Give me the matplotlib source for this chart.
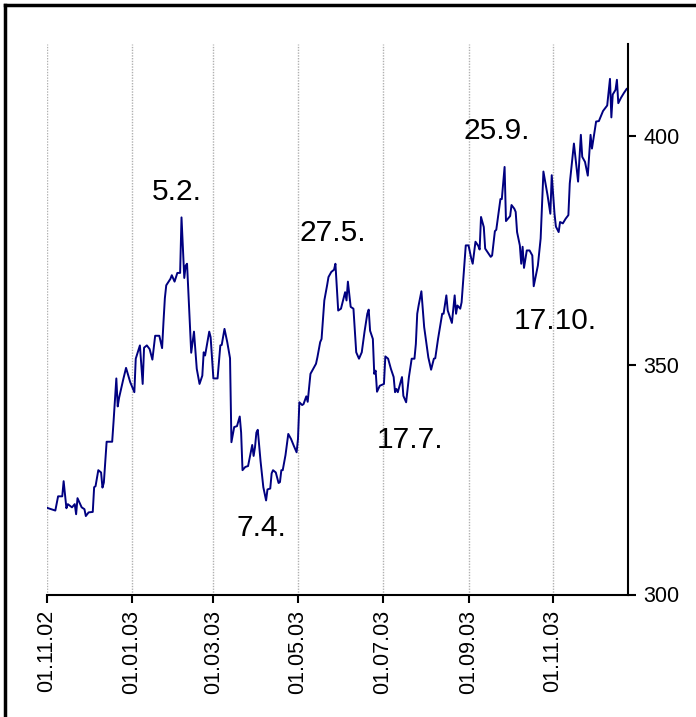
import pandas as pd
import matplotlib
matplotlib.use("Agg")
from matplotlib import pyplot as plt
import matplotlib.dates as mdates
from matplotlib.lines import Line2D

# Days counted from 01.11.2002
start = pd.Timestamp("2002-11-01")
day = [0, 6, 8, 11, 12, 14, 15, 18, 20, 21, 22, 25, 27, 28, 30, 33, 34, 35, 37, 39,
       40, 41, 43, 47, 48, 50, 51, 52, 55, 57, 60, 63, 64, 67, 69, 70, 72, 74, 76, 78,
       81, 83, 84, 85, 86, 89, 90, 92, 94, 96, 97, 99, 100, 101, 104, 106, 108, 110, 112, 113,
       114, 117, 118, 120, 123, 125, 126, 128, 130, 132, 133, 135, 137, 139, 140, 141, 143, 145, 148, 149,
       150, 151, 152, 154, 155, 156, 158, 159, 161, 162, 163, 165, 167, 168, 169, 170, 172, 174, 176, 178,
       180, 181, 182, 184, 185, 187, 188, 190, 192, 194, 195, 197, 198, 200, 202, 203, 205, 207, 208, 210,
       212, 215, 216, 217, 219, 221, 223, 225, 227, 229, 231, 232, 233, 235, 236, 237, 238, 240, 243, 244,
       246, 248, 250, 251, 252, 253, 256, 257, 259, 261, 263, 265, 266, 267, 268, 270, 272, 275, 277, 279,
       280, 282, 285, 286, 288, 289, 292, 294, 295, 296, 298, 299, 301, 302, 304, 306, 307, 309, 311, 312,
       313, 315, 316, 318, 320, 321, 323, 324, 327, 328, 330, 331, 334, 335, 337, 338, 339, 341, 342, 343,
       344, 346, 348, 350, 351, 354, 356, 358, 361, 363, 364, 366, 367, 369, 370, 372, 374, 376, 377, 380,
       383, 385, 386, 388, 390, 392, 393, 396, 398, 401, 402, 404, 406, 407, 408, 410, 411, 412, 414, 416,
       418]
price = [318.9, 318.3, 321.4, 321.4, 324.7, 318.8, 319.7, 319.0, 319.7, 317.5, 321.0, 319.0, 318.6, 317.1, 317.9, 318.0, 323.4, 323.6, 327.1, 326.6,
         323.3, 324.4, 333.3, 333.3, 337.7, 347.1, 341.0, 342.9, 346.9, 349.4, 346.3, 344.1, 351.4, 354.3, 345.9, 353.8, 354.3, 353.5, 351.2, 356.4,
         356.4, 353.7, 359.4, 364.6, 367.4, 368.8, 369.6, 368.2, 370.1, 370.1, 382.2, 369.0, 371.7, 372.1, 352.7, 357.3, 349.2, 345.9, 347.7, 352.8,
         352.1, 357.3, 356.1, 347.1, 347.1, 354.3, 354.4, 357.9, 355.0, 351.5, 333.2, 336.5, 336.7, 338.8, 335.3, 327.1, 327.8, 328.0, 332.6, 330.2,
         332.1, 335.3, 335.9, 329.1, 326.2, 323.4, 320.5, 322.9, 323.1, 326.4, 327.1, 326.6, 324.3, 324.5, 327.1, 327.1, 330.4, 335.0, 333.9, 332.4,
         331.0, 333.9, 341.9, 341.3, 341.5, 343.2, 342.0, 348.1, 349.2, 350.3, 351.7, 355.0, 355.7, 364.1, 367.4, 369.2, 370.3, 370.8, 372.1, 361.9,
         362.3, 365.9, 364.1, 368.2, 362.7, 362.3, 352.8, 351.4, 352.8, 357.3, 361.2, 362.1, 357.5, 355.7, 348.1, 348.8, 344.2, 345.5, 345.9, 351.9,
         351.4, 349.2, 347.4, 344.1, 344.8, 344.1, 347.4, 343.3, 341.9, 347.4, 351.4, 351.4, 354.6, 361.2, 363.0, 366.1, 358.3, 351.7, 349.0, 351.4,
         351.5, 355.7, 361.2, 361.2, 365.2, 361.9, 359.2, 365.2, 361.2, 363.0, 362.3, 363.7, 372.1, 376.1, 376.1, 373.2, 372.1, 376.9, 376.0, 375.2,
         382.3, 380.1, 375.4, 374.5, 373.6, 373.9, 379.2, 379.5, 386.2, 386.2, 393.2, 381.4, 382.5, 384.9, 384.1, 383.4, 379.0, 376.1, 372.1, 375.8,
         371.2, 375.0, 375.0, 373.9, 367.2, 371.7, 377.6, 392.2, 387.0, 383.0, 391.4, 383.0, 380.2, 379.0, 381.2, 380.9, 381.9, 382.7, 389.6, 398.3,
         390.0, 400.2, 395.4, 394.3, 391.3, 400.2, 397.2, 403.1, 403.2, 405.4, 405.8, 406.6, 412.4, 404.0, 409.0, 410.0, 412.2, 407.1, 408.3, 409.3,
         410.2]

labels = ["5.2.", "27.5.", "7.4.", "17.7.", "25.9.", "17.10."]
label_pos = [(177, 192), (333, 233), (261, 528), (410, 440), (497, 131), (555, 321)]

dates = start + pd.to_timedelta(day, unit="D")

plt.rcParams['font.family'] = ['Liberation Sans', 'DejaVu Sans']

fig = plt.figure(figsize=(6.96, 7.17), dpi=100)
ax = fig.add_axes([47 / 696, 1 - 594.5 / 717, (628 - 47) / 696, (594.5 - 44) / 717])

ax.plot(dates, price, color='#000080', lw=1.4)

ax.set_xlim(start, start + pd.Timedelta(days=419))
ax.set_ylim(300, 420)

ax.xaxis.set_major_locator(mdates.MonthLocator(bymonth=[1, 3, 5, 7, 9, 11]))
ax.xaxis.set_major_formatter(mdates.DateFormatter('%d.%m.%y'))
ax.tick_params(axis='x', rotation=90, labelsize=15.5, length=6, width=1.5, direction='out', pad=5)
ax.grid(axis='x', color='#b0b0b0', linestyle=(0, (1, 1)), lw=1)

ax.yaxis.tick_right()
ax.set_yticks([300, 350, 400])
ax.tick_params(axis='y', labelsize=15.5, length=6, width=1.5, direction='out', pad=5)

ax.spines['left'].set_visible(False)
ax.spines['top'].set_visible(False)
ax.spines['right'].set_linewidth(1.5)
ax.spines['bottom'].set_linewidth(1.5)

for txt, (px, py) in zip(labels, label_pos):
    fig.text(px / 696, 1 - py / 717, txt, fontsize=21.5, ha='center', va='center')

# frame (only top and left edges fall inside the picture)
fig.add_artist(Line2D([5 / 696, 1], [1 - 5 / 717, 1 - 5 / 717], color='black', lw=2.5, transform=fig.transFigure))
fig.add_artist(Line2D([5 / 696, 5 / 696], [0, 1 - 5 / 717], color='black', lw=2.5, transform=fig.transFigure))

fig.savefig('out.png', dpi=100)
